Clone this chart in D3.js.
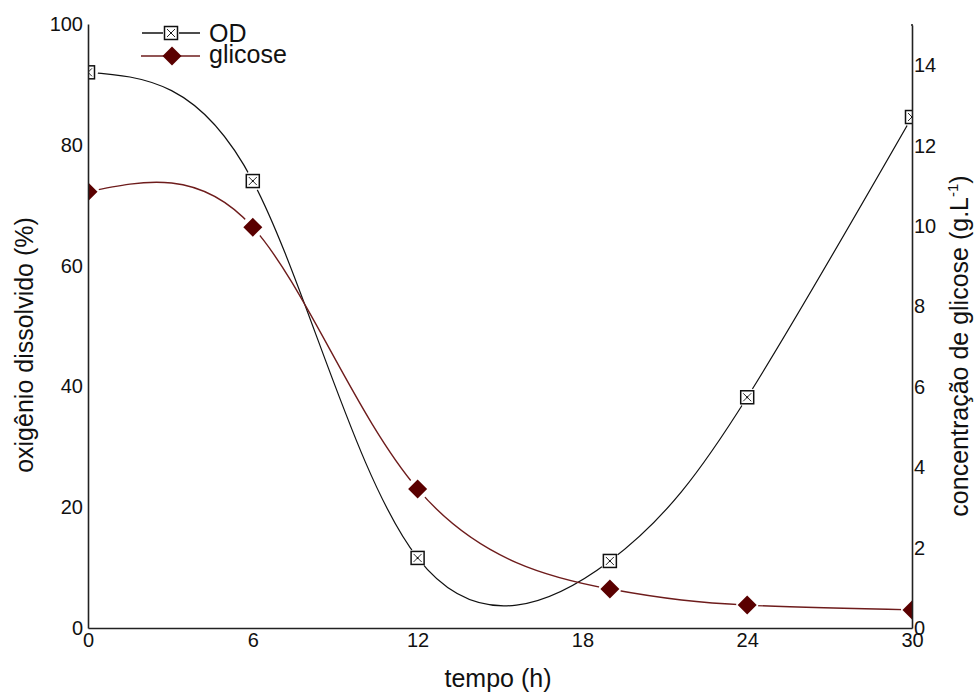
<!DOCTYPE html>
<html>
<head>
<meta charset="utf-8">
<script src="https://cdn.jsdelivr.net/npm/d3@7"></script>
<style>
  body { margin: 0; background: #fff; }
  text { font-family: "Liberation Sans", Arial, sans-serif; fill: #111; }
</style>
</head>
<body>
<svg id="chart" width="980" height="693"></svg>
<script>
// Time points (h) and measured series
const time = [0, 6, 12, 19, 24, 30];
const od = [92, 74, 11.6, 11.1, 38.2, 84.6];          // oxigênio dissolvido (%)
const glicose = [10.85, 9.97, 3.46, 0.97, 0.57, 0.45]; // g.L-1

const xTicks = [0, 6, 12, 18, 24, 30];
const leftTicks = [0, 20, 40, 60, 80, 100];
const rightTicks = [0, 2, 4, 6, 8, 10, 12, 14];

const svg = d3.select("#chart");
svg.append("rect").attr("width", 980).attr("height", 693).attr("fill", "#fff");

const x = d3.scaleLinear().domain([0, 30]).range([88, 912]);
const yL = d3.scaleLinear().domain([0, 100]).range([628, 24]);
const yR = d3.scaleLinear().domain([0, 15]).range([628, 25]);

const defs = svg.append("defs");
defs.append("clipPath").attr("id", "plotClip")
  .append("rect").attr("x", 88).attr("y", 0).attr("width", 824).attr("height", 628);

const odPts = time.map((t, i) => [x(t), yL(od[i])]);
const glPts = time.map((t, i) => [x(t), yR(glicose[i])]);

// masks leave a small gap in each line around its own markers
function gapMask(id, pts, r) {
  const m = defs.append("mask").attr("id", id).attr("maskUnits", "userSpaceOnUse")
    .attr("x", 0).attr("y", 0).attr("width", 980).attr("height", 693);
  m.append("rect").attr("width", 980).attr("height", 693).attr("fill", "#fff");
  m.selectAll("circle").data(pts).join("circle")
    .attr("cx", d => d[0]).attr("cy", d => d[1]).attr("r", r).attr("fill", "#000");
}
gapMask("odGap", odPts, 10);
gapMask("glGap", glPts, 11);

const line = d3.line().curve(d3.curveNatural);

const plot = svg.append("g").attr("clip-path", "url(#plotClip)");

plot.append("path").attr("d", line(odPts)).attr("fill", "none")
  .attr("stroke", "#111").attr("stroke-width", 1.2).attr("mask", "url(#odGap)");
plot.append("path").attr("d", line(glPts)).attr("fill", "none")
  .attr("stroke", "#6e1c1c").attr("stroke-width", 1.4).attr("mask", "url(#glGap)");

function squareMarker(g) {
  g.append("rect").attr("x", -6.5).attr("y", -6.5).attr("width", 13).attr("height", 13)
    .attr("fill", "#fff").attr("stroke", "#111").attr("stroke-width", 1.5);
  g.append("path").attr("d", "M-4,-4L4,4M4,-4L-4,4").attr("stroke", "#111").attr("stroke-width", 0.9);
  g.append("circle").attr("r", 1).attr("fill", "#111");
}
const diamondPath = "M0,-9.5L9.5,0L0,9.5L-9.5,0Z";

plot.selectAll("g.od").data(odPts).join("g").attr("class", "od")
  .attr("transform", d => `translate(${d[0]},${d[1]})`)
  .each(function () { squareMarker(d3.select(this)); });

plot.selectAll("path.gl").data(glPts).join("path").attr("class", "gl")
  .attr("transform", d => `translate(${d[0]},${d[1]})`)
  .attr("d", diamondPath).attr("fill", "#5a0000");

// axes
function styleAxis(g) {
  g.select(".domain").attr("stroke", "#222").attr("stroke-width", 1.6);
  g.selectAll(".tick line").remove();
  g.selectAll("text").attr("font-size", 20).attr("fill", "#111")
    .attr("font-family", "'Liberation Sans', Arial, sans-serif");
}

svg.append("g").attr("transform", "translate(0,628)")
  .call(d3.axisBottom(x).tickValues(xTicks).tickSize(0).tickPadding(5).tickSizeOuter(0))
  .call(styleAxis);

svg.append("g").attr("transform", "translate(88,0)")
  .call(d3.axisLeft(yL).tickValues(leftTicks).tickSize(0).tickPadding(5).tickSizeOuter(0))
  .call(styleAxis);

svg.append("g").attr("transform", "translate(912,0)")
  .call(d3.axisRight(yR).tickValues(rightTicks).tickSize(0).tickPadding(2).tickSizeOuter(0))
  .call(styleAxis);

// right axis line reaches the top of the frame
svg.append("line").attr("x1", 912).attr("x2", 912).attr("y1", 24).attr("y2", 26)
  .attr("stroke", "#222").attr("stroke-width", 1.6);

// axis titles
svg.append("text").attr("x", 498).attr("y", 687).attr("text-anchor", "middle")
  .attr("font-size", 25).text("tempo (h)");

svg.append("text").attr("transform", "translate(33,345) rotate(-90)")
  .attr("text-anchor", "middle").attr("font-size", 25).text("oxigênio dissolvido (%)");

const rt = svg.append("text").attr("transform", "translate(968,346) rotate(-90)")
  .attr("text-anchor", "middle").attr("font-size", 25);
rt.append("tspan").text("concentração de glicose (g.L");
rt.append("tspan").attr("font-size", 15).attr("dy", -10).text("-1");
rt.append("tspan").attr("dy", 10).text(")");

// legend
const lg = svg.append("g");
lg.append("line").attr("x1", 142).attr("x2", 200).attr("y1", 33).attr("y2", 33)
  .attr("stroke", "#111").attr("stroke-width", 1.4);
const lgSq = lg.append("g").attr("transform", "translate(171,33)");
lgSq.append("rect").attr("x", -8).attr("y", -8).attr("width", 16).attr("height", 16).attr("fill", "#fff");
squareMarker(lgSq);
lg.append("text").attr("x", 209).attr("y", 42).attr("font-size", 25).text("OD");

lg.append("line").attr("x1", 141).attr("x2", 200).attr("y1", 56).attr("y2", 56)
  .attr("stroke", "#6e1c1c").attr("stroke-width", 1.4);
lg.append("path").attr("transform", "translate(172,56)").attr("d", diamondPath).attr("fill", "#5a0000");
lg.append("text").attr("x", 209).attr("y", 63).attr("font-size", 25).text("glicose");
</script>
</body>
</html>
